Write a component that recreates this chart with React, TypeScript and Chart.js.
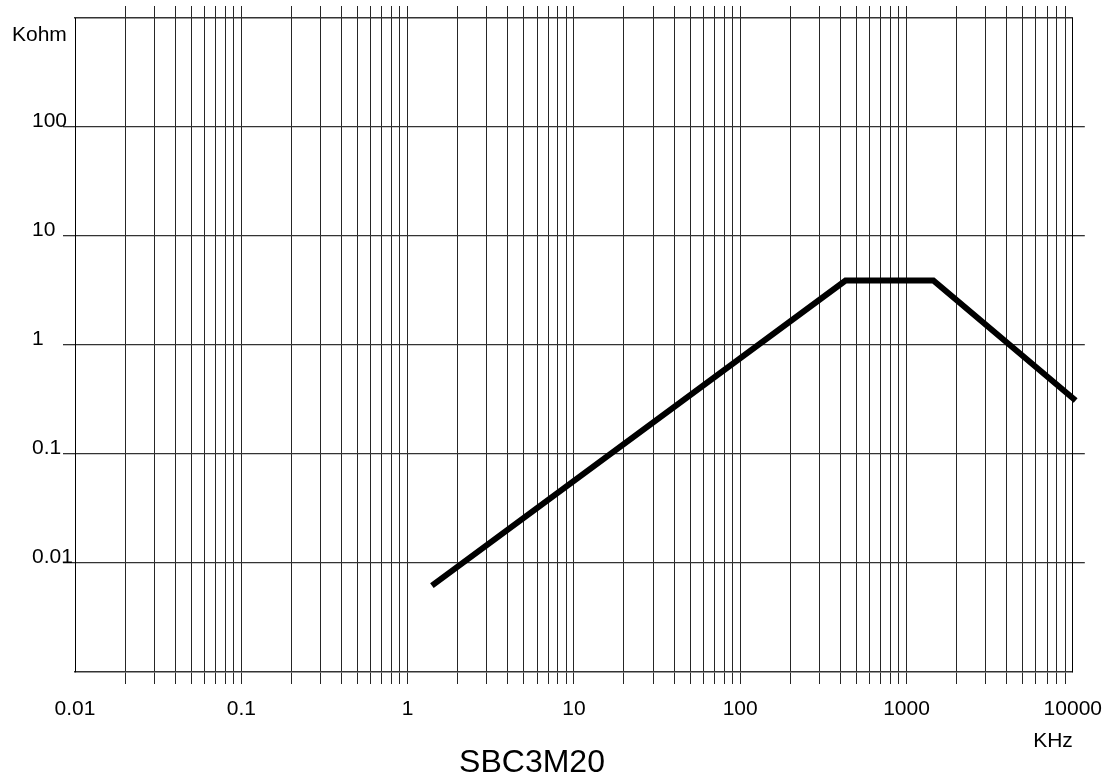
import React, { useEffect, useRef } from 'react';
import { Chart, registerables } from 'chart.js';

Chart.register(...registerables);

// ---- data ----
const FREQ_KHZ = [1.4, 430, 1450, 10400];
const IMPEDANCE_KOHM = [0.0062, 3.9, 3.9, 0.31];

// ---- axis ticks ----
const X_DECADES = [0.01, 0.1, 1, 10, 100, 1000, 10000];
const X_TICK_LABELS = ['0.01', '0.1', '1', '10', '100', '1000', '10000'];
const X_MULTIPLES = [1, 2, 3, 4, 5, 6, 7, 8, 9];
const Y_DECADES = [0.001, 0.01, 0.1, 1, 10, 100, 1000];
const Y_TICK_LABELS = ['', '0.01', '0.1', '1', '10', '100', ''];

const Y_UNIT = 'Kohm';
const X_UNIT = 'KHz';
const PART_NAME = 'SBC3M20';

const FONT = '"Liberation Sans", Arial, Helvetica, sans-serif';
const GRID = '#262626';

const X_MIN = X_DECADES[0];
const X_MAX = X_DECADES[X_DECADES.length - 1];
const Y_MIN = Y_DECADES[0];
const Y_MAX = Y_DECADES[Y_DECADES.length - 1];

const X_TICKS: number[] = [];
X_DECADES.slice(0, -1).forEach((d) => {
  X_MULTIPLES.forEach((m) => X_TICKS.push(parseFloat((d * m).toPrecision(6))));
});
X_TICKS.push(X_MAX);

const near = (a: number, b: number) => Math.abs(a - b) <= Math.abs(b) * 1e-6;

const xLabel = (v: number) => {
  const i = X_DECADES.findIndex((d) => near(v, d));
  return i >= 0 ? X_TICK_LABELS[i] : '';
};
const yLabel = (v: number) => {
  const i = Y_DECADES.findIndex((d) => near(v, d));
  return i >= 0 ? Y_TICK_LABELS[i] : '';
};

const xEdge = (v: number) => near(v, X_MIN) || near(v, X_MAX);
const yEdge = (v: number) => near(v, Y_MIN) || near(v, Y_MAX);

const textPlugin = {
  id: 'extraText',
  afterDraw(chart: any) {
    const { ctx, chartArea } = chart;
    ctx.save();
    ctx.fillStyle = '#000';
    ctx.textBaseline = 'alphabetic';
    ctx.textAlign = 'left';
    ctx.font = `21px ${FONT}`;
    ctx.fillText(Y_UNIT, chartArea.left - 63, chartArea.top + 23);
    ctx.textAlign = 'center';
    ctx.font = `32px ${FONT}`;
    ctx.fillText(PART_NAME, 532, 772);
    ctx.restore();
  },
};

export default function App() {
  const ref = useRef<HTMLCanvasElement>(null);

  useEffect(() => {
    if (!ref.current) return;
    Chart.defaults.font.family = FONT;
    const chart = new Chart(ref.current, {
      type: 'line',
      data: {
        datasets: [
          {
            data: FREQ_KHZ.map((x, i) => ({ x, y: IMPEDANCE_KOHM[i] })),
            borderColor: '#000',
            borderWidth: 6,
            pointRadius: 0,
            tension: 0,
            borderCapStyle: 'butt',
            borderJoinStyle: 'miter',
            clip: false as any,
          },
        ],
      },
      options: {
        responsive: false,
        devicePixelRatio: 1,
        animation: false,
        layout: { padding: { left: 32, top: 0, right: 0, bottom: 0 } },
        plugins: {
          legend: { display: false },
          tooltip: { enabled: false },
          title: { display: false },
        },
        scales: {
          x: {
            type: 'logarithmic',
            position: 'bottom',
            min: X_MIN,
            max: X_MAX,
            afterBuildTicks: (s: any) => {
              s.ticks = X_TICKS.map((value) => ({ value }));
            },
            afterFit: (s: any) => {
              s.height = 106;
            },
            ticks: {
              autoSkip: false,
              maxRotation: 0,
              minRotation: 0,
              padding: 13,
              color: '#000',
              font: { size: 21 },
              callback: (v: any) => xLabel(Number(v)),
            },
            grid: {
              color: GRID,
              lineWidth: 1,
              tickLength: 12,
              tickColor: (c: any) => (c.tick && xEdge(c.tick.value) ? 'rgba(0,0,0,0)' : GRID),
            },
            border: { display: true, color: '#333', width: 1.5 },
            title: {
              display: true,
              text: X_UNIT,
              align: 'end',
              color: '#000',
              font: { size: 21 },
              padding: { top: 0, bottom: 24 },
            },
          },
          x2: {
            type: 'logarithmic',
            position: 'top',
            min: X_MIN,
            max: X_MAX,
            afterBuildTicks: (s: any) => {
              s.ticks = X_TICKS.map((value) => ({ value }));
            },
            afterFit: (s: any) => {
              s.height = 18;
            },
            ticks: { display: false, autoSkip: false },
            grid: {
              drawOnChartArea: false,
              color: GRID,
              tickLength: 12,
              tickColor: (c: any) => (c.tick && xEdge(c.tick.value) ? 'rgba(0,0,0,0)' : GRID),
            },
            border: { display: true, color: '#333', width: 1.5 },
          },
          y: {
            type: 'logarithmic',
            position: 'left',
            min: Y_MIN,
            max: Y_MAX,
            afterBuildTicks: (s: any) => {
              s.ticks = Y_DECADES.map((value) => ({ value }));
            },
            afterFit: (s: any) => {
              s.width = 43;
            },
            ticks: {
              autoSkip: false,
              crossAlign: 'far',
              padding: 0,
              labelOffset: -6,
              color: '#000',
              font: { size: 21 },
              callback: (v: any) => yLabel(Number(v)),
            },
            grid: {
              color: (c: any) => (c.tick && yEdge(c.tick.value) ? 'rgba(0,0,0,0)' : '#333'),
              lineWidth: 1.3,
              tickLength: 12,
              tickColor: (c: any) => (c.tick && yEdge(c.tick.value) ? 'rgba(0,0,0,0)' : '#333'),
            },
            border: { display: true, color: '#000', width: 1 },
          },
          y2: {
            type: 'logarithmic',
            position: 'right',
            min: Y_MIN,
            max: Y_MAX,
            afterBuildTicks: (s: any) => {
              s.ticks = Y_DECADES.map((value) => ({ value }));
            },
            afterFit: (s: any) => {
              s.width = 38;
            },
            ticks: { display: false, autoSkip: false },
            grid: {
              drawOnChartArea: false,
              color: '#333',
              lineWidth: 1.3,
              tickLength: 12,
              tickColor: (c: any) => (c.tick && yEdge(c.tick.value) ? 'rgba(0,0,0,0)' : '#333'),
            },
            border: { display: true, color: '#000', width: 1 },
          },
        },
      } as any,
      plugins: [textPlugin],
    });
    return () => chart.destroy();
  }, []);

  return (
    <div style={{ position: 'absolute', left: 0, top: 0, width: 1115, height: 778, background: '#fff' }}>
      <canvas ref={ref} width={1115} height={778} style={{ display: 'block' }} />
    </div>
  );
}
